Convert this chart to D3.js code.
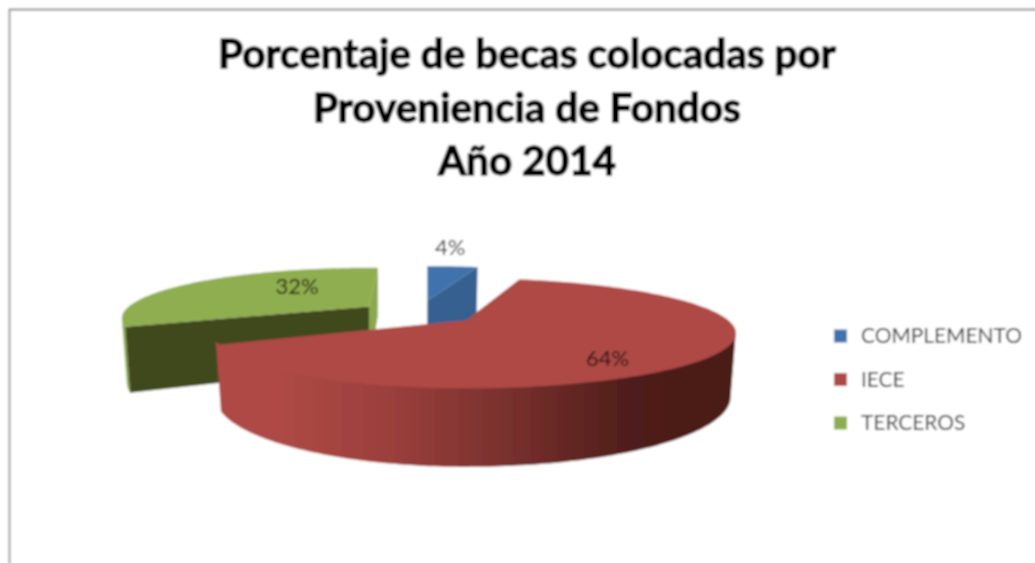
<!DOCTYPE html>
<html lang="es">
<head>
<meta charset="utf-8">
<script src="https://cdnjs.cloudflare.com/ajax/libs/d3/7.8.5/d3.min.js"></script>
<style>
html,body{margin:0;padding:0;background:#fff;overflow:hidden}
svg{display:block}
text{font-family:Lato,"Open Sans",sans-serif}
</style>
</head>
<body>
<svg id="chart" width="1035" height="563"></svg>
<script>
const titleLines = ["Porcentaje de becas colocadas por", "Proveniencia de Fondos", "Año 2014"];
const categories = ["COMPLEMENTO", "IECE", "TERCEROS"];
const values = [4, 64, 32];
const labels = ["4%", "64%", "32%"];
const topColors = ["#3f72ae", "#ae4945", "#8fae50"];
const wallColors = ["#35608f", "#ae4945", "#8aa84d"];
const cutColors = ["#35608f", "#ae4945", "#3f4a1e"];
const sliceTwist = [0, 0, 2.5];
const sliceScaleX = [0.95, 1, 0.965];
const sliceScaleY = [0.82, 1, 0.92];
const sliceShiftX = [-2, 0, -8];
const sliceShiftY = [0, 1, 1];
const labelRadius = [1.38, 0.59, 0.42];
const labelNudgeX = [-12, 1, 1];
const labelNudgeY = [-4, 17, -8];

const W = 1035, H = 563;
const svg = d3.select("#chart");
const defs = svg.append("defs");
defs.append("filter").attr("id", "soft").attr("x", "-5%").attr("y", "-5%").attr("width", "110%").attr("height", "110%")
  .append("feGaussianBlur").attr("stdDeviation", 0.9);
const grad = defs.append("linearGradient").attr("id", "redWall")
  .attr("gradientUnits", "userSpaceOnUse").attr("x1", 217).attr("x2", 737).attr("y1", 0).attr("y2", 0);
[[0.12, "#ae4945"], [0.32, "#9c403c"], [0.55, "#7a312e"], [0.8, "#4e1d1a"], [1, "#4a1b18"]]
  .forEach(([o, c]) => grad.append("stop").attr("offset", o).attr("stop-color", c));

const root = svg.append("g").attr("filter", "url(#soft)");
root.append("rect").attr("x", -10).attr("y", -10).attr("width", W + 20).attr("height", H + 20).attr("fill", "#fff");
root.append("path").attr("d", `M9.5 ${H + 10}V9.5H${W + 10}`).attr("fill", "none").attr("stroke", "#8e8e8e").attr("stroke-width", 1.8);

// Title
const titleY = d3.scaleLinear().domain([0, 1]).range([68, 121.5]);
root.append("g").selectAll("text").data(titleLines).join("text")
  .attr("x", 527).attr("y", (d, i) => titleY(i))
  .attr("text-anchor", "middle").attr("font-size", 40.5).attr("font-weight", 700)
  .attr("fill", "#000").attr("stroke", "#000").attr("stroke-width", 1.3)
  .text(d => d);

// Pie geometry: a disc seen through a simple perspective
const cx = 422, cy = 312, rxRight = 262, rxLeft = 249, ry = 52, persp = 0.236, depth = 60, explode = 0.22, lowerShrink = 0.98;
const scaleAt = a => 1 / (1 + persp * Math.cos(a));
const planeX = (a, r) => (Math.sin(a) >= 0 ? rxRight : rxLeft) * r * Math.sin(a);
const project = (a, r, s, z = 0) => {
  const k = scaleAt(a);
  const shrink = z > 0 ? lowerShrink : 1;
  return [
    s.o[0] + planeX(a, r) * k * shrink * sliceScaleX[s.i],
    s.o[1] - ry * r * Math.cos(a) * k * sliceScaleY[s.i] + z * k
  ];
};
const pie = d3.pie().sort(null).value(d => d).startAngle(0).endAngle(2 * Math.PI);
const line = d3.line();
const sweep = (a0, a1) => {
  const n = Math.max(2, Math.ceil(Math.abs(a1 - a0) * 60));
  return d3.range(n + 1).map(i => a0 + (a1 - a0) * i / n);
};

const slices = pie(values).map((p, i) => {
  const twist = sliceTwist[i] * Math.PI / 180;
  const a0 = p.startAngle + twist, a1 = p.endAngle + twist, mid = (a0 + a1) / 2;
  const o = [cx + planeX(mid, explode) + sliceShiftX[i], cy - ry * explode * Math.cos(mid) + sliceShiftY[i]];
  return {i, a0, a1, mid, o};
});

const extremeAngle = Math.PI - Math.acos(persp);
const wallRange = s => [Math.max(s.a0, extremeAngle), Math.min(s.a1, 2 * Math.PI - extremeAngle)];

const drawSlice = (layer, s) => {
  const [w0, w1] = wallRange(s);
  if (w1 > w0) {
    const pts = sweep(w0, w1);
    // red wall's top boundary tucks under the top face so no pale seam shows
    const tuck = s.i === 1 ? -3 : 0;
    const ring = pts.map(a => project(a, 1, s, tuck)).concat(pts.slice().reverse().map(a => project(a, 1, s, depth)));
    layer.append("path").attr("d", line(ring) + "Z")
      .attr("fill", s.i === 1 ? "url(#redWall)" : wallColors[s.i]);
  }
  const lowerApex = [s.o[0], s.o[1] + depth];
  if (s.i === 0) {
    layer.append("path").attr("d", line([s.o, project(s.a1, 1, s), project(s.a1, 1, s, depth), lowerApex]) + "Z")
      .attr("fill", cutColors[0]);
  }
  if (s.i === 2) {
    layer.append("path").attr("d", line([s.o, project(s.a1, 1, s), project(s.a1, 1, s, depth), lowerApex]) + "Z")
      .attr("fill", wallColors[2]);
    layer.append("path").attr("d", line([s.o, project(s.a0, 1, s), project(s.a0, 1, s, depth), lowerApex]) + "Z")
      .attr("fill", cutColors[2]);
  }
  const rim = sweep(s.a0, s.a1).map(a => project(a, 1, s));
  layer.append("path").attr("d", line([s.o, ...rim]) + "Z").attr("fill", topColors[s.i]);
};

const pieLayer = root.append("g");
[0, 2, 1].forEach(i => drawSlice(pieLayer, slices[i]));

// Data labels
root.append("g").selectAll("text").data(slices).join("text")
  .attr("x", s => project(s.mid, labelRadius[s.i], s)[0] + labelNudgeX[s.i])
  .attr("y", s => project(s.mid, labelRadius[s.i], s)[1] + labelNudgeY[s.i])
  .attr("text-anchor", "middle").attr("dominant-baseline", "middle")
  .attr("font-size", 22).attr("fill", s => s.i === 0 ? "#333" : "#21120e")
  .text(s => labels[s.i]);

// Legend
const legendY = d3.scalePoint().domain(categories).range([336, 423]);
const legend = root.append("g").selectAll("g").data(categories).join("g")
  .attr("transform", d => `translate(834,${legendY(d)})`);
legend.append("rect").attr("y", -6.5).attr("width", 13).attr("height", 13).attr("fill", (d, i) => topColors[i]);
legend.append("text").attr("x", 27).attr("y", 2).attr("dominant-baseline", "middle")
  .attr("font-size", 20.9).attr("fill", "#333").text(d => d);
</script>
</body>
</html>
